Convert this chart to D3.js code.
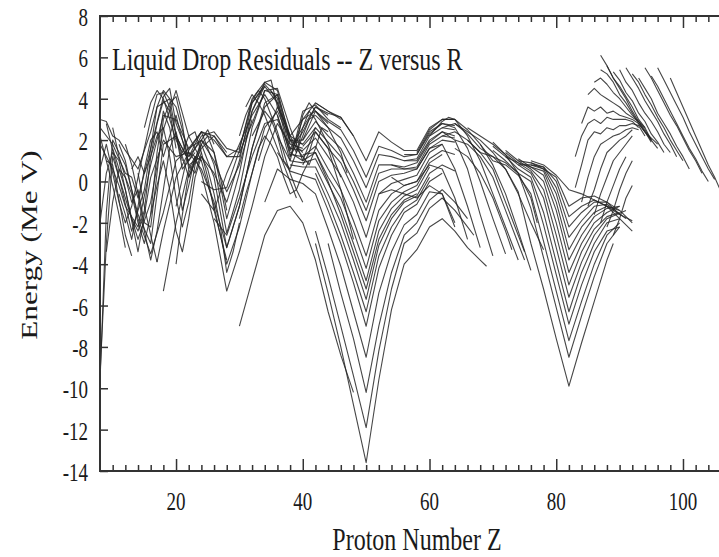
<!DOCTYPE html>
<meta charset="utf-8">
<head>
    <style>
     body { margin: 0; background: #fff; }
     text { font-family: "Liberation Serif", "Times New Roman", serif; fill: #1a1a1a; }
    </style>
</head>
<title>Liquid Drop Residuals</title>
<body>
</body>
<script src="https://d3js.org/d3.v7.min.js"></script>
<script>
 // axis ticks / labels
 const xTicks = [20, 40, 60, 80, 100];
 const yTicks = [8, 6, 4, 2, 0, -2, -4, -6, -8, -10, -12, -14];
 const titleText = "Liquid Drop Residuals -- Z versus R";
 const xLabel = "Proton Number Z";
 const yLabel = "Energy (Me V)";

 // each chain: [Z, residual MeV] pairs
 const lightChains = [
     [[8,3.0],[9,2.9],[10,2.2],[11,2.0],[12,1.5],[14,0.6],[16,2.4],[17,3.6],[18,4.4],[20,3.6],[22,1.4]],
     [[8,2.6],[10,1.8],[12,0.4],[13,0.2],[14,-0.8],[16,1.6],[18,4.1],[19,4.5],[20,2.8],[22,1.2],[24,2.4],[26,2.2],[28,1.4]],
     [[8,1.8],[10,0.6],[11,-0.2],[12,-1.2],[14,-2.2],[16,0.8],[18,3.2],[20,3.0],[22,1.6],[24,2.0],[26,1.0],[28,-0.5],[30,0.8],[32,3.0]],
     [[8,-9.7],[9,-1.5],[10,2.0],[12,0.8],[14,-1.6],[16,-3.0],[18,1.8],[20,2.2],[22,1.0]],
     [[8,-9.4],[9,-3.0],[10,1.2],[12,-0.8],[14,-2.8],[16,-1.0],[18,2.5],[20,4.4],[22,2.2],[24,1.0]],
     [[9,2.8],[11,0.2],[13,-2.4],[15,-0.4],[17,3.6],[19,4.0],[21,0.6],[23,1.4]],
     [[10,1.6],[12,-0.4],[14,-3.4],[16,0.2],[18,2.0],[20,1.2],[22,1.4],[24,0.6],[26,-1.0],[28,-3.2],[30,-1.2],[32,1.6],[34,3.6],[36,4.2]],
     [[9,1.0],[10,0.8],[12,-2.6],[13,-3.6]],
     [[8,2.2],[10,-0.2],[11,-1.6],[12,-3.2]],
     [[11,1.8],[12,1.0],[14,-1.8],[16,-3.5],[18,-1.5],[20,1.0],[22,1.6],[24,2.4],[26,2.0],[28,1.2],[30,1.6],[32,3.8],[34,4.6]],
     [[14,0.4],[15,-1.2],[16,-2.6],[17,-3.9]],
     [[8,0.6],[9,1.8],[10,0.4],[11,-1.0],[12,-2.0],[13,-1.2],[14,0.2],[15,1.6],[16,3.0],[17,4.2],[18,4.3],[19,3.6],[20,2.2],[21,1.0]],
     [[8,-2.0],[9,0.4],[10,1.4],[11,1.0],[12,-0.4],[13,-1.8],[14,-2.4],[15,-1.4],[16,1.2],[17,2.8],[18,3.9],[19,3.4],[20,1.6]],
     [[9,-3.4],[10,-1.0],[11,0.6],[12,0.2],[13,-1.0],[14,-0.4],[15,-2.0],[16,-2.2],[17,0.4],[18,3.0],[19,3.8],[20,4.1],[21,2.8],[22,0.6]],
     [[10,2.6],[11,1.2],[12,0.2],[13,-0.6],[14,-2.0],[15,-3.0],[16,-1.6],[17,1.4],[18,3.4],[19,2.6],[20,0.6],[21,-1.4],[22,-0.2],[23,1.2]],
     [[11,-0.6],[12,-1.6],[13,-2.8],[14,-1.2],[15,0.6],[16,2.0],[17,2.4],[18,1.2],[19,2.2],[20,3.2],[21,2.0],[22,0.8],[23,0.4],[24,1.4]],
     [[12,1.8],[13,0.8],[14,-0.6],[15,-2.4],[16,-3.8],[17,-2.4],[18,-0.4],[19,1.6],[20,2.4],[21,1.2],[22,0.2],[23,1.0],[24,2.0],[25,2.5],[26,1.8]],
     [[13,0.6],[14,1.2],[15,0.4],[16,1.2],[17,2.2],[18,2.6],[19,1.2],[20,-0.8],[21,-2.2],[22,-1.0],[23,0.8],[24,1.8],[25,2.2],[26,1.4],[27,0.2],[28,-1.4]],
     [[15,2.6],[16,3.8],[17,4.4],[18,4.0],[19,3.0],[20,2.0],[21,1.4],[22,2.2],[23,2.4],[24,1.4],[25,0.2],[26,-1.4],[27,-2.6],[28,-3.8]],
     [[16,-1.6],[17,-0.2],[18,1.0],[19,-0.4],[20,-2.4],[21,-3.4],[22,-1.8],[23,0.2],[24,1.2],[25,0.6],[26,-0.6],[27,-2.2],[28,-4.4],[29,-3.4],[30,-2.0]]
 ];

 const midChains = [
     [[18,-5.3],[20,-2.0],[22,0.6],[23,1.2],[24,0.4],[26,-2.0],[28,-5.3],[30,-3.4],[32,-1.2],[34,1.2],[36,2.8],[38,1.8]],
     [[17,-3.9],[18,-2.4],[20,0.2],[22,1.4],[24,1.0],[26,-1.2],[28,-4.0],[30,-2.2],[32,0.4],[34,2.6],[36,3.4],[38,2.0],[40,1.4]],
     [[20,-4.0],[21,-1.6],[22,0.4],[24,1.8],[26,0.2],[28,-3.2],[30,-1.2],[32,1.6],[34,3.8],[36,4.2],[38,2.2],[40,1.8]],
     [[20,-1.2],[22,1.5],[24,2.4],[26,0.8],[28,-2.5],[30,-0.4],[32,2.6],[34,4.4],[36,4.5],[38,2.6],[40,1.0],[42,2.6]],
     [[22,1.2],[24,2.0],[26,1.4],[28,-1.8],[30,0.4],[32,3.4],[34,4.8],[36,4.4],[38,2.0],[40,2.0],[42,3.4]],
     [[22,0.8],[24,1.2],[26,0.4],[28,-1.0],[30,1.0],[32,3.8],[34,4.7],[36,4.0],[38,1.5],[40,2.4],[42,3.6],[44,3.2]],
     [[24,0.0],[26,-0.4],[28,-0.3],[30,1.5],[32,4.0],[34,4.8],[35,4.9],[36,3.6],[38,2.2],[40,3.0],[42,3.8],[44,3.4],[46,3.0]],
     [[24,-0.6],[26,-1.4],[28,0.4],[30,1.8],[32,3.2],[34,4.2],[36,3.2],[38,1.0],[40,3.4],[42,3.7],[44,3.0],[46,2.6]],
     [[26,-1.8],[28,-2.6],[30,-0.8],[32,1.2],[34,2.8],[36,3.0],[38,1.6],[40,2.6],[42,3.6],[44,3.3],[46,3.1],[48,2.2]],
     [[20,2.2],[22,1.0],[24,2.2],[26,2.4],[28,1.6],[30,1.4],[32,2.8],[34,4.4],[36,4.2],[38,1.8],[40,1.6]],
     [[22,0.2],[24,1.6],[26,2.2],[28,1.2],[30,1.2],[32,3.4],[34,4.6],[36,3.8],[38,1.2],[40,3.0],[42,3.4],[44,2.8]],
     [[30,-7.0],[32,-4.8],[34,-2.6],[36,-1.4],[38,-1.2],[40,-2.0],[42,-3.8],[44,-6.3],[46,-8.4],[48,-10.2]],
     [[30,2.2],[31,3.2],[32,3.9],[33,4.4],[34,4.0],[35,3.2],[36,2.4],[37,1.4],[38,0.4],[39,-0.4],[40,-1.0]],
     [[31,3.6],[32,4.2],[33,3.8],[34,3.2],[35,2.4],[36,1.6],[37,0.8],[38,0.0],[39,-0.8]],
     [[32,2.2],[33,2.8],[34,3.4],[35,3.0],[36,2.2],[37,1.0],[38,0.6],[39,1.4],[40,2.2],[41,3.0],[42,3.2]],
     [[33,1.0],[34,2.0],[35,2.8],[36,3.6],[37,3.0],[38,2.2],[39,1.6],[40,1.2],[41,0.8],[42,1.6],[43,2.6],[44,2.4]],
     [[30,-1.8],[31,-0.6],[32,0.4],[33,1.6],[34,2.2],[35,1.8],[36,1.2],[37,0.2],[38,-0.6],[39,-0.4],[40,0.4],[41,1.0]],
     [[35,4.4],[36,3.8],[37,3.0],[38,2.0],[39,1.4],[40,2.6],[41,3.4],[42,3.0],[43,2.4],[44,1.8],[45,1.0],[46,0.2]],
     [[38,1.2],[39,1.8],[40,3.2],[41,3.8],[42,3.4],[43,3.0],[44,2.6],[45,2.0],[46,1.4],[47,0.4]],
     [[40,0.8],[41,1.4],[42,2.4],[43,2.0],[44,1.6],[45,0.6],[46,-0.4],[47,-1.6],[48,-2.8]]
 ];

 const tinChains = [
     [[42,-3.0],[44,-5.4],[46,-8.0],[48,-10.8],[50,-13.6],[52,-9.6],[54,-6.2],[56,-4.0],[58,-3.3],[60,-2.2],[62,-1.8],[64,-2.4],[66,-3.2],[68,-3.8],[69,-4.1]],
     [[42,-2.4],[44,-4.6],[46,-7.0],[48,-9.4],[50,-11.9],[52,-8.2],[54,-5.2],[56,-3.0],[58,-2.5],[60,-1.3],[62,-0.8],[64,-1.4],[66,-2.2],[67,-2.6]],
     [[34,-1.0],[36,0.6],[38,0.1],[40,-0.1],[42,-0.6],[44,-2.3],[46,-4.1],[48,-6.3],[50,-8.5],[52,-5.4],[54,-3.4],[56,-2.1],[58,-1.6],[60,-0.5],[62,-0.6],[64,-2.0]],
     [[36,1.4],[38,0.5],[40,0.3],[42,0.1],[44,-1.4],[46,-3.0],[48,-4.9],[50,-7.0],[52,-4.2],[54,-2.6],[56,-1.5],[58,-1.1],[60,0.0],[62,0.4]],
     [[38,0.8],[40,0.7],[42,0.7],[44,-0.6],[46,-2.0],[48,-3.8],[50,-5.7],[52,-3.1],[54,-1.8],[56,-1.0],[58,-0.7],[60,0.4],[62,0.8],[64,0.5]],
     [[36,2.2],[38,1.0],[40,0.9],[42,1.1],[44,-0.1],[46,-1.3],[48,-3.0],[50,-4.8],[52,-2.4],[54,-1.3],[56,-0.7],[58,-0.4],[60,0.7]],
     [[38,1.3],[40,1.2],[42,1.7],[44,0.6],[46,-0.4],[48,-1.9],[50,-3.6],[52,-1.4],[54,-0.6],[56,-0.2],[58,0.0],[60,1.1],[62,1.5],[64,1.3]],
     [[38,1.6],[40,1.5],[42,2.1],[44,1.2],[46,0.3],[48,-1.0],[50,-2.7],[52,-0.6],[54,-0.1],[56,0.1],[58,0.3],[60,1.4],[62,1.8]],
     [[40,1.7],[42,2.4],[44,1.6],[46,0.9],[48,-0.4],[50,-1.9],[52,0.0],[54,0.3],[56,0.4],[58,0.6],[60,1.6],[62,2.0],[64,1.9]],
     [[40,2.0],[42,2.9],[44,2.2],[46,1.6],[48,0.4],[50,-1.0],[52,0.8],[54,0.8],[56,0.7],[58,0.9],[60,1.9],[62,2.4],[64,2.2]],
     [[42,3.2],[44,2.6],[46,2.1],[48,1.0],[50,-0.3],[52,1.3],[54,1.2],[56,1.0],[58,1.1],[60,2.2],[62,2.6],[64,2.5]],
     [[42,3.4],[44,2.9],[46,2.5],[48,1.5],[50,0.2],[52,1.7],[54,1.5],[56,1.2],[58,1.3],[60,2.4],[62,2.8],[64,2.7]],
     [[42,3.8],[44,3.4],[46,3.1],[48,2.2],[50,1.0],[52,2.4],[54,1.9],[56,1.5],[58,1.5],[60,2.6],[62,3.0],[64,3.0]],
     [[36,3.2],[38,1.4],[40,1.0],[42,1.4],[44,0.2],[46,-0.8],[48,-2.4],[50,-4.2],[52,-1.9],[54,-1.0],[56,-0.5],[58,-0.2],[60,0.9],[62,1.3]],
     [[38,2.0],[40,1.8],[42,2.6],[44,1.9],[46,1.2],[48,0.0],[50,-1.4],[52,0.4],[54,0.6],[56,0.6],[58,0.7],[60,1.8],[62,2.2],[64,2.1]],
     [[40,1.3],[42,1.4],[44,0.0],[46,-1.6],[48,-3.4],[50,-5.2],[52,-2.8],[54,-1.6],[56,-0.9],[58,-0.6]],
     [[42,0.4],[44,-1.0],[46,-2.6],[48,-4.4],[50,-6.3],[52,-3.6],[54,-2.2],[56,-1.3],[58,-0.9],[60,0.2]],
     [[44,-3.0],[46,-5.4],[48,-7.6],[50,-10.2],[52,-7.0],[54,-4.4],[56,-2.6],[58,-2.0],[60,-0.9],[62,-0.4],[64,-1.0],[66,-1.8]]
 ];

 const rareEarthChains = [
     [[52,-0.6],[54,-0.4],[56,-0.6],[58,-0.8],[60,-0.2],[62,-0.6],[64,-2.2]],
     [[54,0.2],[56,-0.2],[58,0.0],[60,0.8],[62,0.6],[64,-0.8],[66,-2.8]],
     [[54,0.8],[56,0.6],[58,0.6],[60,1.6],[62,1.8],[64,0.6],[66,-1.2],[68,-3.2]],
     [[56,1.0],[58,1.0],[60,2.0],[62,2.4],[64,2.0],[66,0.6],[68,-1.6],[70,-3.6]],
     [[56,1.3],[58,1.3],[60,2.3],[62,2.8],[64,2.6],[66,1.6],[68,0.0],[70,-1.8],[72,-3.5]],
     [[58,1.4],[60,2.5],[62,3.0],[64,3.0],[66,2.2],[68,1.0],[70,-0.6],[72,-2.2],[74,-3.8]],
     [[60,2.2],[62,2.9],[63,3.1],[64,3.0],[66,2.5],[68,1.8],[70,0.8],[72,-0.6],[74,-2.4],[76,-4.3]],
     [[62,2.6],[64,2.8],[66,2.4],[68,2.0],[70,1.4],[72,0.6],[74,-0.6],[76,-2.0],[78,-3.3]],
     [[62,2.2],[64,2.4],[66,2.0],[68,1.4],[70,0.6],[71,-0.2],[73,-1.8],[75,-3.4]],
     [[64,2.0],[66,1.8],[68,1.2],[70,0.2],[72,-1.4],[74,-3.0],[75,-3.8]],
     [[64,1.6],[66,1.2],[68,0.4],[70,-0.8],[72,-2.4],[73,-3.3]],
     [[66,2.6],[68,2.2],[70,1.8],[72,1.3],[74,0.4],[76,-0.8],[77,-2.0]]
 ];

 const leadChains = [
     [[64,2.8],[66,2.3],[68,1.6],[70,1.2],[72,0.6],[74,-0.5],[76,-3.0],[78,-5.2],[80,-7.6],[82,-9.9],[84,-7.8],[86,-5.8],[88,-3.8],[89,-3.0]],
     [[66,2.0],[68,1.4],[70,1.2],[72,0.9],[74,0.4],[76,-1.3],[78,-3.7],[80,-6.1],[82,-8.5],[84,-6.5],[86,-4.6],[88,-3.0],[90,-2.2]],
     [[68,1.8],[70,1.0],[72,0.8],[74,0.3],[76,-0.6],[78,-2.9],[80,-5.3],[82,-7.7],[84,-5.8],[86,-4.0],[88,-2.6],[90,-2.0]],
     [[70,1.5],[72,1.0],[74,0.4],[76,0.0],[78,-2.1],[80,-4.5],[82,-6.9],[84,-5.0],[86,-3.4],[88,-2.4],[90,-2.2]],
     [[70,1.7],[72,1.2],[74,0.6],[76,0.2],[78,-1.5],[80,-3.9],[82,-6.3],[84,-4.4],[86,-3.0],[88,-2.0],[90,-1.8]],
     [[70,1.9],[72,1.3],[74,0.8],[76,0.4],[78,-0.8],[80,-3.2],[82,-5.6],[84,-3.9],[86,-2.6],[88,-1.8],[91,-1.4]],
     [[72,1.4],[74,0.9],[76,0.5],[78,-0.4],[80,-2.6],[82,-5.0],[84,-3.4],[86,-2.3],[88,-1.7],[90,-1.5]],
     [[72,1.5],[74,1.0],[76,0.6],[78,0.0],[80,-2.0],[82,-4.4],[84,-3.0],[86,-2.0],[88,-1.5],[90,-1.2]],
     [[72,1.2],[74,0.9],[76,0.7],[78,0.3],[80,-1.4],[82,-3.8],[84,-2.6],[86,-1.7],[88,-1.3],[90,-1.2]],
     [[74,1.1],[76,0.7],[78,0.5],[80,-1.0],[82,-3.3],[84,-2.2],[86,-1.5],[88,-1.2],[90,-1.4]],
     [[74,0.8],[76,0.8],[78,0.6],[80,-0.6],[82,-2.7],[84,-1.9],[86,-1.2],[88,-1.1],[91,-1.8]],
     [[74,1.0],[76,0.9],[78,0.7],[80,-0.3],[82,-2.2],[84,-1.5],[86,-1.0],[88,-1.0],[90,-1.6]],
     [[76,0.8],[78,0.7],[80,0.0],[82,-1.7],[84,-1.2],[86,-0.9],[88,-1.2],[90,-1.8],[92,-2.4]],
     [[76,0.9],[78,0.6],[80,0.2],[82,-1.2],[84,-0.8],[86,-0.7],[88,-1.0],[90,-1.4],[92,-2.0]],
     [[76,1.0],[78,0.8],[80,0.3],[82,-0.4],[84,-0.6],[86,-0.9],[88,-1.2],[90,-1.6],[92,-1.9]]
 ];

 const actinideChains = [
     [[87,6.1],[88,5.6],[89,5.0],[90,4.5],[91,4.0],[92,3.4],[93,2.9],[94,2.5],[95,2.0]],
     [[87,5.4],[88,5.2],[89,4.8],[90,4.2],[91,3.8],[92,3.3],[93,2.8],[94,2.4],[95,1.9]],
     [[86,4.8],[87,5.0],[88,4.7],[89,4.3],[90,4.0],[91,3.6],[92,3.2],[93,2.9],[94,2.4],[95,2.1],[96,1.8]],
     [[85,4.2],[86,4.5],[87,4.2],[88,4.0],[89,3.8],[90,3.6],[91,3.3],[92,3.1],[93,2.9],[94,2.6]],
     [[84,2.8],[85,3.6],[86,3.4],[87,3.6],[88,3.3],[89,3.4],[90,3.2],[91,3.1],[92,3.0],[93,2.8],[94,2.4],[95,2.0]],
     [[83,1.2],[84,2.2],[85,2.8],[86,3.0],[87,2.8],[88,3.1],[89,3.0],[90,3.0],[91,3.0],[92,2.9],[93,2.6]],
     [[83,-0.3],[84,0.8],[85,2.0],[86,2.4],[87,2.3],[88,2.6],[89,2.5],[90,2.7],[91,2.7],[92,2.8],[93,2.7],[94,2.2]],
     [[84,-1.0],[85,0.2],[86,1.2],[87,1.8],[88,2.0],[89,2.2],[90,2.3],[91,2.5],[92,2.6],[93,2.5]],
     [[85,-1.2],[86,-0.4],[87,0.6],[88,1.4],[89,1.7],[90,2.0],[91,2.2],[92,2.5]],
     [[86,-1.6],[87,-0.6],[88,0.2],[89,1.0],[90,1.4],[91,1.8],[92,2.2]],
     [[87,-2.0],[88,-1.0],[89,-0.2],[90,0.6],[91,1.2]],
     [[88,-2.2],[89,-1.4],[90,-0.4],[91,0.4],[92,1.0]],
     [[89,-2.6],[90,-1.8],[91,-0.8],[92,-0.2]]
 ];

 const heavyFalling = [
     [[88,5.6],[89,5.0],[90,4.6],[91,4.1],[92,3.6],[93,3.0],[94,2.6],[95,2.0],[96,1.6]],
     [[89,5.3],[90,4.9],[91,4.3],[92,3.9],[93,3.3],[94,2.9],[95,2.3],[96,1.9],[97,1.4]],
     [[90,5.4],[91,4.8],[92,4.4],[93,3.8],[94,3.3],[95,2.9],[96,2.4],[97,1.8],[98,1.4]],
     [[91,5.5],[92,5.0],[93,4.5],[94,3.9],[95,3.4],[96,2.9],[97,2.3],[98,1.8],[99,1.2]],
     [[92,5.2],[93,4.8],[94,4.2],[95,3.7],[96,3.1],[97,2.6],[98,2.0],[99,1.5],[100,1.0]],
     [[93,5.0],[94,4.5],[95,4.0],[96,3.3],[97,2.8],[98,2.3],[99,1.7],[100,1.2],[101,0.6]],
     [[94,5.5],[95,5.0],[96,4.4],[97,3.8],[98,3.2],[99,2.7],[100,2.1],[101,1.5],[102,1.0],[103,0.4]],
     [[95,5.1],[96,4.6],[97,4.0],[98,3.4],[99,2.8],[100,2.2],[101,1.6],[102,1.1],[103,0.5],[104,0.0]],
     [[96,5.5],[97,4.9],[98,4.3],[99,3.7],[100,3.1],[101,2.4],[102,1.8],[103,1.2],[104,0.6],[105,0.1]],
     [[98,5.0],[99,4.3],[100,3.6],[101,2.9],[102,2.2],[103,1.5],[104,0.8],[105,0.2],[106,-0.5]]
 ];

 const width = 719, height = 557;
 const plot = {left: 100, right: 721, top: 16, bottom: 471};

 const x = d3.scaleLinear().domain([8, 106]).range([plot.left, plot.right]);
 const y = d3.scaleLinear().domain([-14, 8]).range([plot.bottom, plot.top]);

 const svg = d3.select("body").append("svg")
               .attr("width", width)
               .attr("height", height)
               .style("display", "block")
               .style("background", "#fff");

 svg.append("clipPath").attr("id", "plotclip")
    .append("rect")
    .attr("x", plot.left).attr("y", plot.top)
    .attr("width", plot.right - plot.left).attr("height", plot.bottom - plot.top);

 const chains = [].concat(lightChains, midChains, tinChains, rareEarthChains,
                          leadChains, actinideChains, heavyFalling);

 const line = d3.line()
                .x(d => x(d[0]))
                .y(d => y(d[1]));

 svg.append("g")
    .attr("clip-path", "url(#plotclip)")
    .selectAll("path")
    .data(chains)
    .join("path")
    .attr("d", line)
    .attr("fill", "none")
    .attr("stroke", "#262626")
    .attr("stroke-width", 1.1)
    .attr("stroke-opacity", 0.85)
    .attr("stroke-linejoin", "round");

 // minor tick positions every 2 in Z
 const xMinor = d3.range(10, 106, 2).filter(v => xTicks.indexOf(v) < 0);

 function styleAxis(g) {
     g.select(".domain").remove();
     g.selectAll("line").attr("stroke", "#333").attr("stroke-width", 1.5);
 }

 svg.append("g").attr("transform", `translate(0,${plot.bottom})`)
    .call(d3.axisBottom(x).tickValues(xTicks).tickSize(-12).tickFormat(""))
    .call(styleAxis);
 svg.append("g").attr("transform", `translate(0,${plot.bottom})`)
    .call(d3.axisBottom(x).tickValues(xMinor).tickSize(-6).tickFormat(""))
    .call(styleAxis);
 svg.append("g").attr("transform", `translate(0,${plot.top})`)
    .call(d3.axisTop(x).tickValues(xTicks).tickSize(-12).tickFormat(""))
    .call(styleAxis);
 svg.append("g").attr("transform", `translate(0,${plot.top})`)
    .call(d3.axisTop(x).tickValues(xMinor).tickSize(-6).tickFormat(""))
    .call(styleAxis);
 svg.append("g").attr("transform", `translate(${plot.left},0)`)
    .call(d3.axisLeft(y).tickValues(yTicks).tickSize(-8).tickFormat(""))
    .call(styleAxis);

 // frame
 svg.append("rect")
    .attr("x", plot.left).attr("y", plot.top)
    .attr("width", plot.right - plot.left).attr("height", plot.bottom - plot.top)
    .attr("fill", "none")
    .attr("stroke", "#333")
    .attr("stroke-width", 2);

 // tick labels (the source picture is stretched vertically, hence scale)
 svg.append("g").selectAll("text")
    .data(yTicks)
    .join("text")
    .attr("text-anchor", "end")
    .attr("font-size", 19)
    .attr("transform", d => `translate(88,${y(d) + 10}) scale(1,1.3)`)
    .text(d => String(d));

 svg.append("g").selectAll("text")
    .data(xTicks)
    .join("text")
    .attr("text-anchor", "middle")
    .attr("font-size", 19)
    .attr("transform", d => `translate(${x(d)},510) scale(1,1.3)`)
    .text(d => String(d));

 svg.append("text")
    .attr("font-size", 24)
    .attr("transform", "translate(112,70) scale(1,1.3)")
    .text(titleText);

 svg.append("text")
    .attr("font-size", 24)
    .attr("text-anchor", "middle")
    .attr("transform", "translate(417,550) scale(1,1.3)")
    .text(xLabel);

 svg.append("text")
    .attr("font-size", 24)
    .attr("text-anchor", "middle")
    .attr("transform", "translate(37,245) scale(1,1.3) rotate(-90)")
    .text(yLabel);
</script>
